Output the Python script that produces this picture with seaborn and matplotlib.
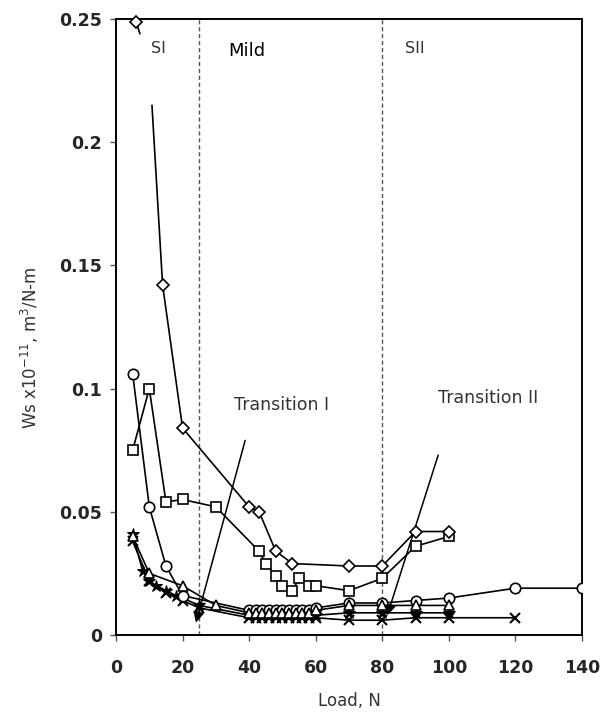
import numpy as np
import pandas as pd
import matplotlib
matplotlib.use("Agg")
import matplotlib.pyplot as plt
import seaborn as sns

# ---------------- data ----------------
diamond_x = [14, 20, 40, 43, 48, 53, 70, 80, 90, 100]
diamond_y = [0.142, 0.084, 0.052, 0.050, 0.034, 0.029, 0.028, 0.028, 0.042, 0.042]
diamond_top_x = [6, 7.2]
diamond_top_y = [0.249, 0.244]
diamond_lead_x = [10.8, 14]
diamond_lead_y = [0.215, 0.142]

square_x = [5, 10, 15, 20, 30, 43, 45, 48, 50, 53, 55, 58, 60, 70, 80, 90, 100]
square_y = [0.075, 0.100, 0.054, 0.055, 0.052, 0.034, 0.029, 0.024, 0.020, 0.018,
            0.023, 0.020, 0.020, 0.018, 0.023, 0.036, 0.040]

circle_x = [5, 10, 15, 20, 40, 42, 44, 46, 48, 50, 52, 54, 56, 58, 60, 70, 80, 90, 100, 120, 140]
circle_y = [0.106, 0.052, 0.028, 0.016, 0.010, 0.010, 0.010, 0.010, 0.010, 0.010, 0.010,
            0.010, 0.010, 0.010, 0.011, 0.013, 0.013, 0.014, 0.015, 0.019, 0.019]

triangle_x = [5, 10, 20, 30, 40, 42, 44, 46, 48, 50, 52, 54, 56, 58, 60, 70, 80, 90, 100]
triangle_y = [0.040, 0.025, 0.020, 0.012, 0.009, 0.009, 0.009, 0.009, 0.009, 0.009, 0.009,
              0.009, 0.009, 0.009, 0.010, 0.012, 0.012, 0.012, 0.012]

star_x = [5, 8, 10, 12, 15, 18, 20, 25, 40, 42, 44, 46, 48, 50, 52, 54, 56, 58, 60, 70, 80, 90, 100]
star_y = [0.041, 0.026, 0.022, 0.020, 0.018, 0.016, 0.015, 0.012, 0.008, 0.008, 0.008, 0.008,
          0.008, 0.008, 0.008, 0.008, 0.008, 0.008, 0.008, 0.009, 0.009, 0.009, 0.009]

cross_x = [5, 10, 15, 20, 25, 40, 42, 44, 46, 48, 50, 52, 54, 56, 58, 60, 70, 80, 90, 100, 120]
cross_y = [0.038, 0.022, 0.017, 0.014, 0.011, 0.007, 0.007, 0.007, 0.007, 0.007, 0.007, 0.007,
           0.007, 0.007, 0.007, 0.007, 0.006, 0.006, 0.007, 0.007, 0.007]

boundary_x = [25, 80]
x_ticks = [0, 20, 40, 60, 80, 100, 120, 140]
y_ticks = [0, 0.05, 0.1, 0.15, 0.2, 0.25]
y_tick_labels = ["0", "0.05", "0.1", "0.15", "0.2", "0.25"]

regions = ["SI", "Mild", "SII"]
region_x = [12.6, 39.3, 89.9]
region_y = [0.238, 0.237, 0.238]

transition_labels = ["Transition I", "Transition II"]
transition_text_x = [49.7, 111.7]
transition_text_y = [0.0933, 0.096]
arrow_start_x = [38.8, 96.8]
arrow_start_y = [0.079, 0.073]
arrow_end_x = [24.0, 81.5]
arrow_end_y = [0.005, 0.008]

# ---------------- style ----------------
sns.set_style("ticks")
plt.rcParams["font.family"] = ["DejaVu Sans"]
plt.rcParams["mathtext.fontset"] = "dejavusans"

fig = plt.figure(figsize=(6.03, 7.13), dpi=100)
ax = fig.add_axes([0.1924, 0.1094, 0.7727, 0.8639])

line_kw = dict(color="black", linewidth=1.2, estimator=None, sort=False, legend=False)
mk_hollow = dict(markerfacecolor="white", markeredgecolor="black", markeredgewidth=1.2)

# boundaries
for bx in boundary_x:
    ax.axvline(bx, color="#555555", linestyle=(0, (3, 2)), linewidth=1.0, zorder=1)

# arrows
for sx, sy, ex, ey in zip(arrow_start_x, arrow_start_y, arrow_end_x, arrow_end_y):
    ax.annotate("", xy=(ex, ey), xytext=(sx, sy),
                arrowprops=dict(arrowstyle="-|>", color="black", lw=1.1,
                                mutation_scale=16, shrinkA=0, shrinkB=0),
                zorder=2)

# series
sns.lineplot(x=cross_x, y=cross_y, marker="x", markersize=7, markeredgewidth=1.5,
             markeredgecolor="black", ax=ax, zorder=3, **line_kw)
sns.lineplot(x=star_x, y=star_y, marker="*", markersize=9, markerfacecolor="black",
             markeredgecolor="black", ax=ax, zorder=4, **line_kw)
sns.lineplot(x=circle_x, y=circle_y, marker="o", markersize=7.5, ax=ax, zorder=5,
             **mk_hollow, **line_kw)
sns.lineplot(x=triangle_x, y=triangle_y, marker="^", markersize=7, ax=ax, zorder=6,
             **mk_hollow, **line_kw)
sns.lineplot(x=square_x, y=square_y, marker="s", markersize=7.5, ax=ax, zorder=7,
             **mk_hollow, **line_kw)
sns.lineplot(x=diamond_lead_x, y=diamond_lead_y, ax=ax, zorder=8, **line_kw)
sns.lineplot(x=diamond_top_x, y=diamond_top_y, marker="D", markersize=6.5, markevery=[0],
             ax=ax, zorder=8, clip_on=False, **mk_hollow, **line_kw)
sns.lineplot(x=diamond_x, y=diamond_y, marker="D", markersize=6.5, ax=ax, zorder=8,
             **mk_hollow, **line_kw)

# texts
for t, tx, ty in zip(regions, region_x, region_y):
    ax.text(tx, ty, t, ha="center", va="center",
            fontsize=13 if t == "Mild" else 11.5,
            color="black" if t == "Mild" else "#333333")
for t, tx, ty in zip(transition_labels, transition_text_x, transition_text_y):
    ax.text(tx, ty, t, ha="center", va="center", fontsize=12.5, color="#333333")

# axes
ax.set_xlim(0, 140)
ax.set_ylim(0, 0.25)
ax.set_xticks(x_ticks)
ax.set_xticklabels([str(v) for v in x_ticks])
ax.set_yticks(y_ticks)
ax.set_yticklabels(y_tick_labels)
for lab in ax.get_xticklabels() + ax.get_yticklabels():
    lab.set_fontweight("bold")
    lab.set_fontsize(12.5)
ax.tick_params(axis="both", direction="out", length=4, width=1, color="#555555")
ax.tick_params(axis="x", pad=13)
ax.tick_params(axis="y", pad=6)
for sp in ax.spines.values():
    sp.set_visible(True)
    sp.set_color("black")
    sp.set_linewidth(1.4)

ax.set_xlabel("Load, N", fontsize=12, color="#333333")
ax.set_ylabel(r"Ws x10$^{-11}$, m$^{3}$/N-m", fontsize=12, color="#333333")
ax.xaxis.set_label_coords(0.502, -0.0925)
ax.yaxis.set_label_coords(-0.161, 0.466)

fig.savefig("out.png", dpi=100)
